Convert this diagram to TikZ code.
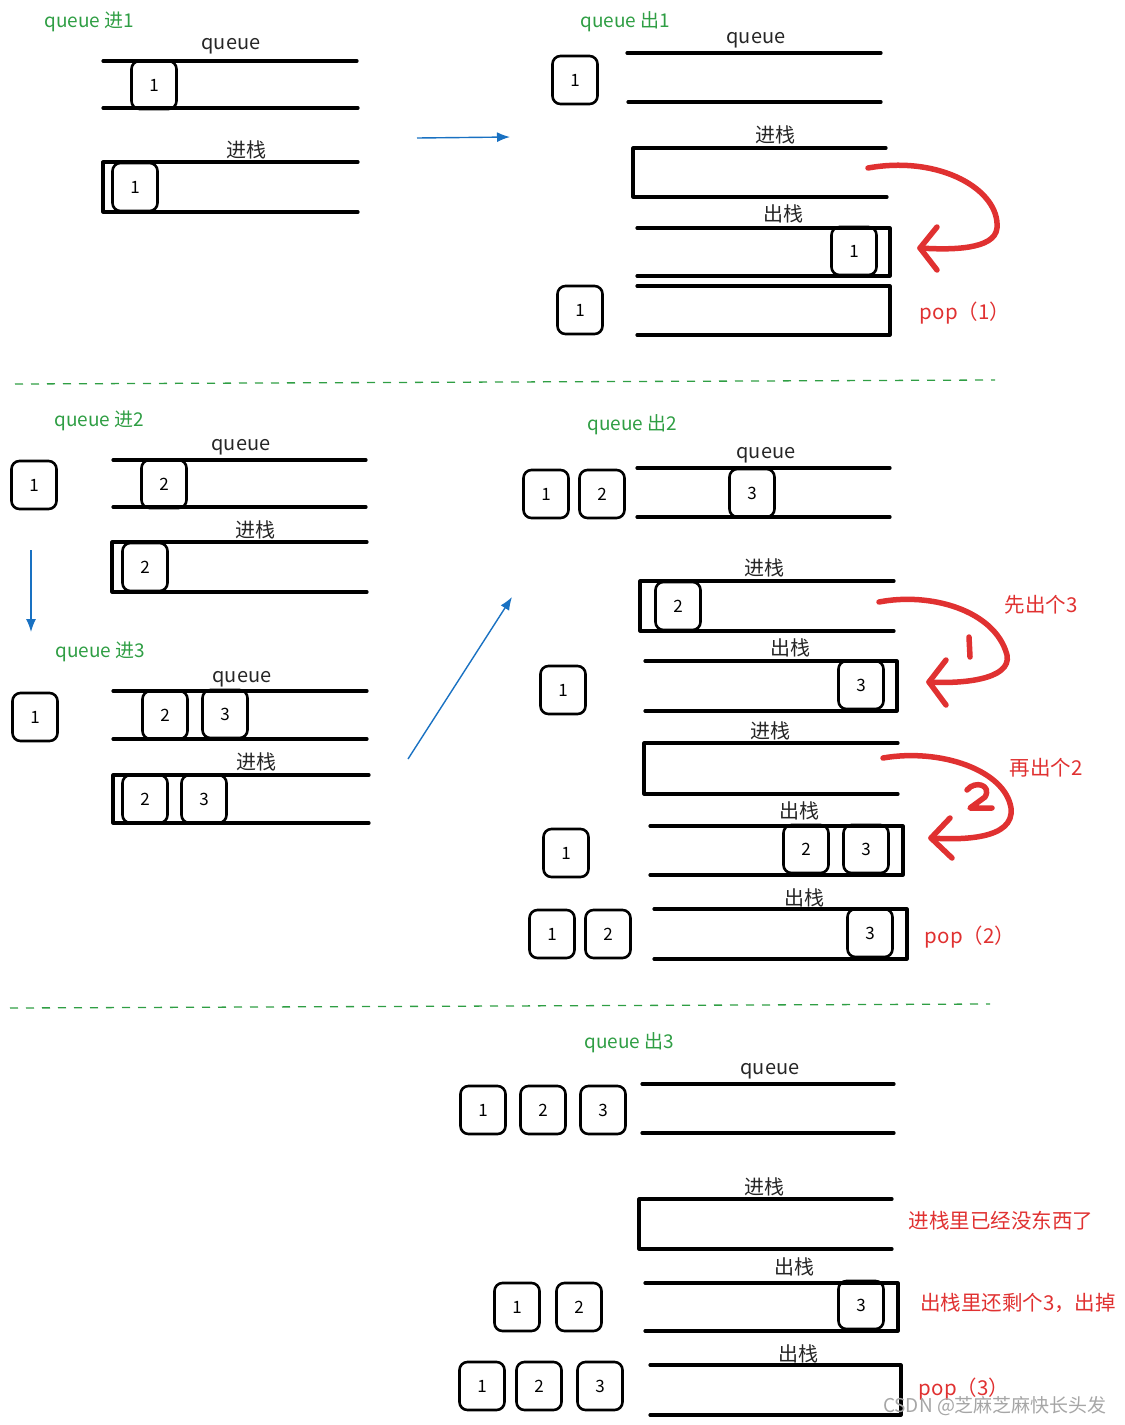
\documentclass[tikz,border=0pt]{standalone}
\usepackage{fontspec}
\setmainfont{Noto Sans CJK SC}
\usepackage{tikz}
\usetikzlibrary{arrows.meta}
\definecolor{qgreen}{HTML}{2F9E44}
\definecolor{qred}{HTML}{E03131}
\definecolor{qblue}{HTML}{1971C2}
\tikzset{
	wall/.style={line width=3.2pt, line cap=round, line join=round},
	elem/.style={draw, line width=2.6pt, rounded corners=8pt, minimum width=45pt, minimum height=48pt, inner sep=0pt, font=\fontsize{17}{19}\selectfont},
	lbl/.style={font=\fontsize{20}{22}\selectfont, text=black!85},
	title/.style={font=\fontsize{19}{21}\selectfont, text=qgreen, anchor=west},
	note/.style={font=\fontsize{20.5}{22}\selectfont, text=qred},
	redpen/.style={qred, line width=5.5pt, line cap=round, line join=round},
	flow/.style={qblue, line width=1.4pt, -{Latex[length=13pt,width=10pt]}},
	sep/.style={qgreen, line width=1.3pt, dash pattern=on 8pt off 8pt}
}

\begin{document}
\begin{tikzpicture}[x=1pt,y=-1pt]
		%%%%% START %%%%%
		\useasboundingbox (0,0) rectangle (1125,1425);
		
		% queue in 1
		\node[title] (t1) at (41,22) {queue 进1};
		\node[lbl] (la) at (231,46) {queue};
		\draw[wall] (103,61) -- (357,61);
		\draw[wall] (103,108) -- (358,108);
		\node[elem] (a1) at (154,85) {1};
		\node[lbl] (lb) at (246,150) {进栈};
		\draw[wall] (358,162) -- (103,162) -- (103,212) -- (358,212);
		\node[elem] (b1) at (135,187) {1};
		
		\coordinate (f1) at (417,138);
		\coordinate (f2) at (510,137);
		\draw[flow] (f1) -- (f2);
		
		% queue out 1
		\node[title] (t2) at (577,22) {queue 出1};
		\node[lbl] (lc) at (756,40) {queue};
		\draw[wall] (627,53) -- (881,53);
		\draw[wall] (628,102) -- (881,102);
		\node[elem] (c1) at (575,80) {1};
		\node[lbl] (ld) at (775,135) {进栈};
		\draw[wall] (886,148) -- (633,148) -- (633,197) -- (887,197);
		\node[lbl] (le) at (783,214) {出栈};
		\draw[wall] (637,228) -- (890,228) -- (890,276) -- (637,276);
		\node[elem] (e1) at (854,251) {1};
		\draw[wall] (637,286) -- (890,286) -- (890,335) -- (637,335);
		\node[elem] (f1) at (580,310) {1};
		\draw[redpen] (868,168) .. controls (940,155) and (1000,190) .. (997,228) .. controls (995,250) and (950,250) .. (920,248);
		\draw[redpen] (937,227) -- (920,248) -- (937,270);
		\node[note] (p1) at (965,313) {pop（1）};
		
		\draw[sep] (15,384) -- (995,380);
		
		% queue in 2
		\node[title] (t3) at (51,421) {queue 进2};
		\node[elem] (g1) at (34,485) {1};
		\node[lbl] (lg) at (241,447) {queue};
		\draw[wall] (113,460) -- (366,460);
		\draw[wall] (113,507) -- (366,507);
		\node[elem] (g2) at (164,484) {2};
		\node[lbl] (lh) at (255,530) {进栈};
		\draw[wall] (367,542) -- (112,542) -- (112,592) -- (367,592);
		\node[elem] (h2) at (145,567) {2};
		
		\coordinate (f3) at (31,550);
		\coordinate (f4) at (31,632);
		\draw[flow] (f3) -- (f4);
		
		% queue in 3
		\node[title] (t4) at (52,652) {queue 进3};
		\node[elem] (i1) at (35,717) {1};
		\node[lbl] (li) at (242,679) {queue};
		\draw[wall] (113,691) -- (367,691);
		\draw[wall] (113,739) -- (367,739);
		\node[elem] (i2) at (165,715) {2};
		\node[elem] (i3) at (225,714) {3};
		\node[lbl] (lj) at (256,762) {进栈};
		\draw[wall] (369,775) -- (113,775) -- (113,823) -- (369,823);
		\node[elem] (j2) at (145,799) {2};
		\node[elem] (j3) at (204,799) {3};
		
		\coordinate (f5) at (408,759);
		\coordinate (f6) at (512,597);
		\draw[flow] (f5) -- (f6);
		
		% queue out 2
		\node[title] (t5) at (584,425) {queue 出2};
		\node[elem] (k1) at (546,494) {1};
		\node[elem] (k2) at (602,494) {2};
		\node[lbl] (lk) at (766,455) {queue};
		\draw[wall] (637,468) -- (890,468);
		\draw[wall] (637,517) -- (890,517);
		\node[elem] (k3) at (752,493) {3};
		\node[lbl] (lm) at (764,568) {进栈};
		\draw[wall] (894,581) -- (640,581) -- (640,631) -- (894,631);
		\node[elem] (m2) at (678,606) {2};
		\node[lbl] (ln) at (790,648) {出栈};
		\draw[wall] (645,661) -- (897,661) -- (897,711) -- (645,711);
		\node[elem] (n3) at (861,685) {3};
		\node[elem] (n1) at (563,690) {1};
		\node[lbl] (lo) at (770,731) {进栈};
		\draw[wall] (898,743) -- (644,743) -- (644,794) -- (898,794);
		\node[lbl] (lp) at (799,811) {出栈};
		\draw[wall] (650,826) -- (903,826) -- (903,875) -- (650,875);
		\node[elem] (p2) at (806,849) {2};
		\node[elem] (p3) at (866,849) {3};
		\node[elem] (q1) at (566,853) {1};
		\node[lbl] (lq) at (804,898) {出栈};
		\draw[wall] (654,909) -- (907,909) -- (907,959) -- (654,959);
		\node[elem] (r3) at (870,933) {3};
		\node[elem] (r1) at (552,934) {1};
		\node[elem] (r2) at (608,934) {2};
		
		\draw[redpen] (879,602) .. controls (930,592) and (995,610) .. (1007,655) .. controls (1012,680) and (960,684) .. (929,682);
		\draw[redpen] (946,660) -- (929,682) -- (946,705);
		\draw[redpen] (969,637) -- (970,657);
		\node[note] (s1) at (1041,605) {先出个3};
		\draw[redpen] (883,758) .. controls (940,748) and (1005,770) .. (1011,808) .. controls (1015,840) and (960,840) .. (931,838);
		\draw[redpen] (950,818) -- (931,838) -- (952,858);
		\draw[redpen] (967,790) .. controls (975,780) and (992,785) .. (985,797) -- (970,808) -- (992,808);
		\node[note] (s2) at (1046,768) {再出个2};
		\node[note] (p2n) at (970,937) {pop（2）};
		
		\draw[sep] (10,1008) -- (990,1004);
		
		% queue out 3
		\node[title] (t6) at (581,1043) {queue 出3};
		\node[elem] (u1) at (483,1110) {1};
		\node[elem] (u2) at (543,1110) {2};
		\node[elem] (u3) at (603,1110) {3};
		\node[lbl] (lu) at (770,1071) {queue};
		\draw[wall] (642,1084) -- (894,1084);
		\draw[wall] (642,1133) -- (894,1133);
		\node[lbl] (lv) at (764,1187) {进栈};
		\draw[wall] (892,1199) -- (639,1199) -- (639,1249) -- (892,1249);
		\node[note] (s3) at (1001,1221) {进栈里已经没东西了};
		\node[lbl] (lw) at (794,1267) {出栈};
		\draw[wall] (645,1283) -- (898,1283) -- (898,1331) -- (645,1331);
		\node[elem] (w3) at (861,1305) {3};
		\node[elem] (w1) at (517,1307) {1};
		\node[elem] (w2) at (579,1307) {2};
		\node[note] (s4) at (1018,1303) {出栈里还剩个3，出掉};
		\node[lbl] (lx) at (798,1354) {出栈};
		\draw[wall] (650,1365) -- (901,1365) -- (901,1415) -- (650,1415);
		\node[elem] (x1) at (482,1386) {1};
		\node[elem] (x2) at (539,1386) {2};
		\node[elem] (x3) at (600,1386) {3};
		\node[note] (p3n) at (964,1389) {pop（3）};
		
		\node[font=\fontsize{19}{21}\selectfont, text=black!35] (wm) at (995,1406) {CSDN @芝麻芝麻快长头发};
		
		%%%%% END %%%%%
	\end{tikzpicture}
\end{document}
